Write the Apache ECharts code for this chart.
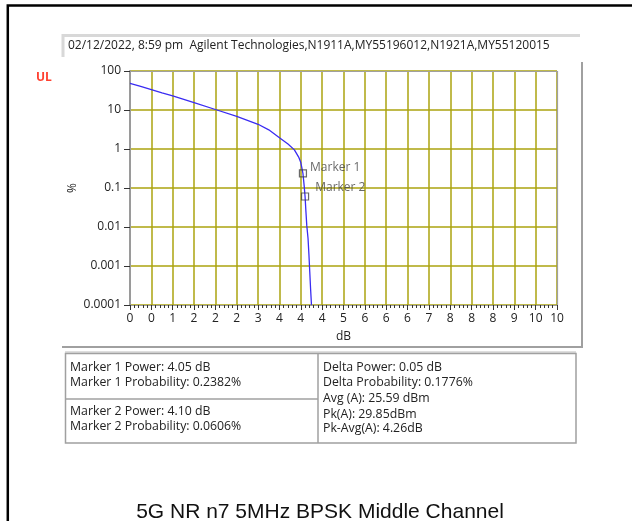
<!DOCTYPE html>
<html>
<head>
<meta charset="utf-8">
<script src="https://cdn.jsdelivr.net/npm/echarts@6/dist/echarts.min.js"></script>
<style>
html,body{margin:0;padding:0;background:#fff;}
#chart{width:632px;height:521px;}
</style>
</head>
<body>
<div id="chart"></div>
<script>
// ---- data ----
const powerDb = [0, 0.25, 0.5, 0.75, 1.0, 1.5, 2.0, 2.5, 3.0, 3.25, 3.5, 3.7, 3.85, 3.95, 4.0, 4.03, 4.05, 4.08, 4.10, 4.12, 4.14, 4.17, 4.19, 4.21, 4.23, 4.25];
const probabilityPct = [48, 40.5, 33.5, 27.5, 23, 15.5, 10.3, 6.9, 4.3, 3.1, 1.95, 1.35, 0.95, 0.62, 0.45, 0.31, 0.2382, 0.11, 0.0606, 0.025, 0.011, 0.005, 0.002, 0.0007, 0.00025, 0.0001];
const markerNames = ['Marker 1', 'Marker 2'];
const markerDb = [4.05, 4.10];
const markerPct = [0.2382, 0.0606];
const xTickLabels = ['0','0','1','2','2','2','3','4','4','4','5','6','6','6','7','8','8','8','9','10','10'];
const yTickLabels = ['0.0001','0.001','0.01','0.1','1','10','100'];
const headerText = '02/12/2022, 8:59 pm  Agilent Technologies,N1911A,MY55196012,N1921A,MY55120015';
const infoLeftTop = ['Marker 1 Power: 4.05 dB', 'Marker 1 Probability: 0.2382%'];
const infoLeftBottom = ['Marker 2 Power: 4.10 dB', 'Marker 2 Probability: 0.0606%'];
const infoRight = ['Delta Power: 0.05 dB', 'Delta Probability: 0.1776%', 'Avg (A): 25.59 dBm', 'Pk(A): 29.85dBm', 'Pk-Avg(A): 4.26dB'];
const titleText = '5G NR n7 5MHz BPSK Middle Channel';

// ---- layout ----
const G = {left: 130, top: 71, right: 557, bottom: 305};
const UI_FONT = '"Open Sans", "Noto Sans", sans-serif';
const GRID_COLOR = '#aba30f';
const FRAME_GRAY = '#a0a0a0';

const chart = echarts.init(document.getElementById('chart'), null, {renderer: 'canvas'});

const lineData = powerDb.map((x, i) => [x, probabilityPct[i]]);
const markerData = markerDb.map((x, i) => ({
  value: [x, markerPct[i]],
  label: {
    show: true,
    formatter: markerNames[i],
    position: 'right',
    distance: i === 0 ? 3 : 6,
    offset: i === 0 ? [0, -6] : [0, -9]
  }
}));

function txt(x, y, s, extra) {
  return Object.assign({
    type: 'text', x: x, y: y, z: 50,
    style: Object.assign({text: s, fill: '#222', font: '12px ' + UI_FONT, textVerticalAlign: 'middle'}, extra || {})
  });
}

const graphics = [];
// outer black frame
graphics.push({type: 'rect', z: 40, shape: {x: 7.8, y: 5.5, width: 700, height: 600}, style: {fill: null, stroke: '#000', lineWidth: 2.5}});
// header box
graphics.push({type: 'rect', z: 40, shape: {x: 62, y: 34, width: 518, height: 23}, style: {fill: '#fff', stroke: null}});
graphics.push({type: 'polyline', z: 41, shape: {points: [[63, 57], [63, 35.5], [580, 35.5]]}, style: {stroke: '#d8d8d8', lineWidth: 3, fill: null}});
graphics.push(txt(68, 46, headerText));
// chart panel frame (right + bottom)
graphics.push({type: 'polyline', z: 40, shape: {points: [[582, 62], [582, 347], [62, 347]]}, style: {stroke: FRAME_GRAY, lineWidth: 2, fill: null}});
// plot area top/right border
graphics.push({type: 'polyline', z: 45, shape: {points: [[G.left, G.top + 0.5], [G.right + 0.5, G.top + 0.5], [G.right + 0.5, G.bottom]]}, style: {stroke: FRAME_GRAY, lineWidth: 1.2, fill: null}});
// UL
graphics.push(txt(36, 78, 'UL', {fill: '#ff4030', font: 'bold 12px ' + UI_FONT}));
// % axis title
graphics.push({type: 'text', z: 50, x: 73, y: 188, rotation: Math.PI / 2, style: {text: '%', fill: '#222', font: '12px ' + UI_FONT, textAlign: 'center', textVerticalAlign: 'middle'}});
// info table
graphics.push({type: 'rect', z: 40, shape: {x: 65, y: 351, width: 511, height: 2.5}, style: {fill: '#dedede', stroke: null}});
graphics.push({type: 'rect', z: 41, shape: {x: 65.5, y: 353.5, width: 510.5, height: 89.5}, style: {fill: '#fff', stroke: FRAME_GRAY, lineWidth: 1.5}});
graphics.push({type: 'line', z: 42, shape: {x1: 318, y1: 353.5, x2: 318, y2: 443}, style: {stroke: FRAME_GRAY, lineWidth: 1.5}});
graphics.push({type: 'line', z: 42, shape: {x1: 65.5, y1: 399, x2: 318, y2: 399}, style: {stroke: FRAME_GRAY, lineWidth: 1.5}});
const infoFont = '12.3px ' + UI_FONT;
infoLeftTop.forEach((s, i) => graphics.push(txt(70, 367 + i * 15, s, {font: infoFont})));
infoLeftBottom.forEach((s, i) => graphics.push(txt(70, 411 + i * 15, s, {font: infoFont})));
infoRight.forEach((s, i) => graphics.push(txt(323, [367, 382, 398, 414, 428.5][i], s, {font: infoFont})));
// bottom title
graphics.push({type: 'text', z: 50, x: 320, y: 512, style: {text: titleText, fill: '#111', font: '21px "Liberation Sans", Arial, sans-serif', textAlign: 'center', textVerticalAlign: 'middle'}});

const option = {
  animation: false,
  backgroundColor: '#fff',
  grid: {left: G.left, top: G.top, width: G.right - G.left, height: G.bottom - G.top, containLabel: false},
  xAxis: {
    type: 'value', min: 0, max: 10, interval: 0.5,
    name: 'dB', nameLocation: 'middle', nameGap: 26,
    nameTextStyle: {color: '#222', fontSize: 12, fontFamily: UI_FONT},
    axisLine: {show: true, onZero: false, lineStyle: {color: '#9a9a9a', width: 1}},
    axisTick: {show: true, inside: false, length: 5, lineStyle: {color: '#333', width: 1}},
    minorTick: {show: true, splitNumber: 5, length: 3, lineStyle: {color: '#333', width: 1}},
    axisLabel: {color: '#222', fontSize: 12, fontFamily: UI_FONT, margin: 8,
      formatter: v => xTickLabels[Math.round(v / 0.5)]},
    splitLine: {show: true, lineStyle: {color: GRID_COLOR, width: 1.5}}
  },
  yAxis: {
    type: 'log', logBase: 10, min: 0.0001, max: 100,
    axisLine: {show: true, lineStyle: {color: '#9a9a9a', width: 2}},
    axisTick: {show: true, inside: false, length: 6, lineStyle: {color: '#333', width: 1}},
    axisLabel: {color: '#222', fontSize: 12, fontFamily: UI_FONT, margin: 9,
      formatter: v => yTickLabels[Math.round(Math.log10(v)) + 4]},
    splitLine: {show: true, lineStyle: {color: GRID_COLOR, width: 1.5}}
  },
  series: [
    {type: 'line', data: lineData, showSymbol: false, smooth: false,
      lineStyle: {color: '#3a2cf2', width: 1.3}, z: 3},
    {type: 'scatter', data: markerData, symbol: 'rect', symbolSize: 7,
      itemStyle: {color: 'rgba(0,0,0,0)', borderColor: '#444', borderWidth: 1.2},
      label: {color: '#444', fontSize: 12, fontFamily: UI_FONT}, z: 4}
  ],
  graphic: graphics
};
chart.setOption(option);
</script>
</body>
</html>
